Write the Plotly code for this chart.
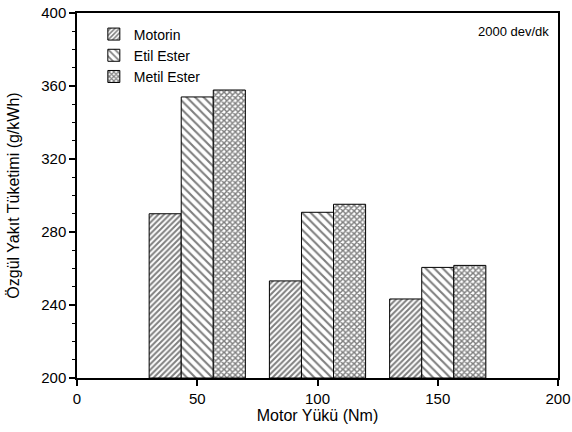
import plotly.graph_objects as go

loads = [50, 100, 150]
motorin = [290, 253.2, 243.3]
etil = [354, 290.8, 260.6]
metil = [357.8, 295.2, 261.7]
series_names = ["Motorin", "Etil Ester", "Metil Ester"]
patterns = ["/", "\\", "x"]
pattern_sizes = [4, 6, 4]
solidities = [0.5, 0.35, 0.6]

fig = go.Figure()
for name, vals, shp, sz, sol in zip(series_names, [motorin, etil, metil], patterns, pattern_sizes, solidities):
    fig.add_trace(go.Bar(
        x=loads, y=[v - 200 for v in vals], base=200, name=name,
        marker=dict(color="white", line=dict(color="black", width=1),
                    pattern=dict(shape=shp, fgcolor="black", bgcolor="white",
                                 size=sz, solidity=sol)),
        hoverinfo="skip",
    ))

font = "Liberation Sans, Arial, sans-serif"
fig.update_layout(
    width=572, height=432,
    margin=dict(l=77, r=14, t=13, b=54),
    paper_bgcolor="white", plot_bgcolor="white",
    barmode="group", bargap=0.2, bargroupgap=0,
    font=dict(family=font, size=15, color="black"),
    showlegend=True,
    legend=dict(x=0.035, y=0.985, xanchor="left", yanchor="top",
                bgcolor="rgba(0,0,0,0)", font=dict(size=14, family=font),
                tracegroupgap=0, itemwidth=30),
    xaxis=dict(range=[0, 200], tickvals=[0, 50, 100, 150, 200], automargin=False,
               ticks="outside", ticklen=6, tickwidth=1.5, tickcolor="black",
               showline=True, linecolor="black", linewidth=1.5, mirror=True,
               showgrid=False, zeroline=False,
               title=dict(text="Motor Yükü (Nm)", font=dict(size=16), standoff=2)),
    yaxis=dict(range=[200, 400], tickvals=[200, 240, 280, 320, 360, 400], automargin=False,
               ticks="outside", ticklen=6, tickwidth=1.5, tickcolor="black",
               minor=dict(dtick=10, ticks="outside", ticklen=3, tickcolor="black", tickwidth=1),
               showline=True, linecolor="black", linewidth=1.5, mirror=True,
               showgrid=False, zeroline=False,
               title=dict(text="Özgül Yakıt Tüketimi (g/kWh)", font=dict(size=16), standoff=18)),
    annotations=[dict(text="2000 dev/dk", x=0.985, y=0.975, xref="paper", yref="paper",
                      xanchor="right", yanchor="top", showarrow=False,
                      font=dict(size=13, family=font))],
)

fig.write_html("out.html")
